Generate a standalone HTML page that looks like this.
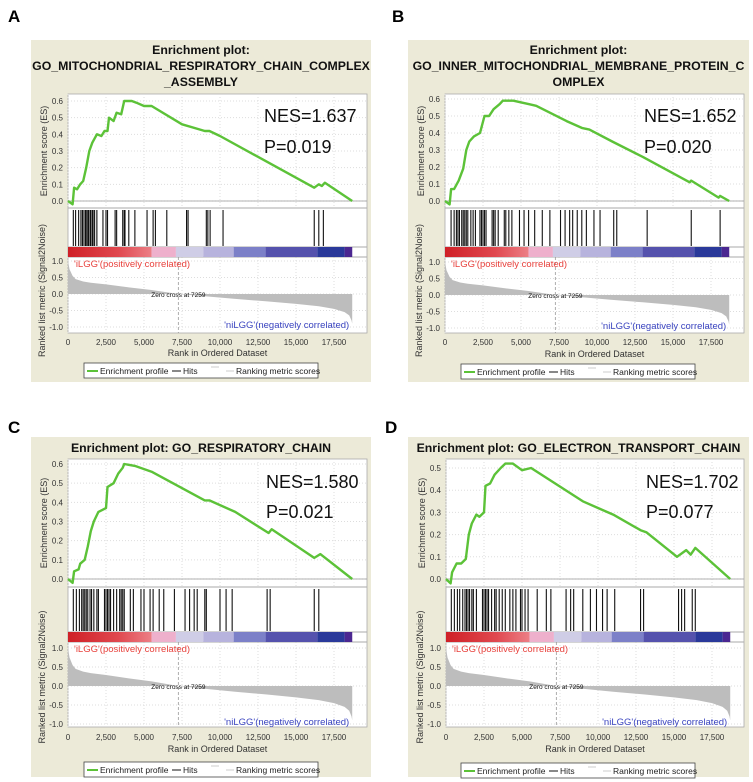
<!DOCTYPE html>
<html><head><meta charset="utf-8"><style>
html,body{margin:0;padding:0;background:#fff;}
svg{display:block;font-family:"Liberation Sans",Arial,sans-serif;}
</style></head><body>
<svg id="fig" width="753" height="782" viewBox="0 0 753 782" xmlns="http://www.w3.org/2000/svg">
<defs><linearGradient id="redg" x1="0" x2="1" y1="0" y2="0"><stop offset="0" stop-color="#cf2027"/><stop offset="0.6" stop-color="#e0484f"/><stop offset="1" stop-color="#ec7f86"/></linearGradient></defs>
</svg>
<script>
// ---- data ----
const esRankA=[0,0.3,0.4,0.6,0.8,1.0,1.2,1.4,1.6,1.9,2.2,2.4,2.6,2.7,3.0,3.2,3.5,3.7,4.2,4.5,5.0,5.5,7.5,9.0,9.3,10.0,16.2,16.5,16.7,16.9,18.7];
const esValA=[0,-0.02,0.08,0.07,0.1,0.12,0.2,0.3,0.35,0.4,0.39,0.42,0.42,0.5,0.48,0.53,0.52,0.6,0.6,0.59,0.57,0.57,0.46,0.42,0.42,0.39,0.08,0.1,0.09,0.11,0];
const hitsA=[0.35,0.5,0.7,0.85,0.95,1.05,1.15,1.2,1.3,1.35,1.45,1.5,1.6,1.65,1.75,1.9,2.3,2.5,2.6,3.1,3.2,3.6,3.7,3.75,4.0,4.4,5.2,5.6,5.75,6.5,7.8,7.9,9.1,9.2,9.35,10.2,16.2,16.5,16.8];
const esRankB=[0,0.3,0.4,0.6,0.9,1.2,1.4,1.6,1.9,2.3,2.6,2.9,3.2,3.6,3.8,4.5,5.5,6.0,8.0,9.0,9.5,11,13,16.1,16.2,18.0,18.1,18.7];
const esValB=[0,-0.02,0.07,0.07,0.12,0.19,0.3,0.35,0.38,0.4,0.5,0.5,0.54,0.57,0.59,0.59,0.57,0.56,0.47,0.43,0.42,0.35,0.26,0.11,0.12,0.02,0.03,0];
const hitsB=[0.4,0.6,0.75,0.85,0.95,1.1,1.2,1.3,1.4,1.5,1.7,1.85,2.0,2.3,2.4,2.5,2.6,2.7,3.1,3.2,3.3,3.5,3.9,4.0,4.2,4.4,4.9,5.2,5.5,5.9,6.4,6.9,7.6,7.9,8.2,8.4,8.7,9.0,9.3,9.8,10.2,11.1,11.3,13.3,16.2,18.1];
const esRankC=[0,0.3,0.4,0.7,0.8,1.1,1.3,1.5,1.7,2.0,2.5,2.6,3.0,3.3,3.6,3.7,4.4,5.5,9.0,9.3,11,13.2,13.4,16.2,16.4,16.6,18.7];
const esValC=[0,-0.02,0.04,0.05,0.08,0.1,0.17,0.25,0.3,0.35,0.37,0.48,0.5,0.55,0.58,0.6,0.59,0.56,0.41,0.41,0.35,0.24,0.26,0.11,0.12,0.13,0];
const hitsC=[0.35,0.55,0.75,0.9,1.0,1.1,1.2,1.3,1.45,1.55,1.7,1.9,2.0,2.4,2.5,2.6,2.7,2.8,3.0,3.2,3.4,3.5,3.6,3.7,4.1,4.3,4.8,5.0,5.4,5.6,6.0,6.3,7.0,7.7,8.0,8.3,8.5,9.0,9.1,10.0,10.4,10.8,13.1,13.3,16.2,16.5];
const esRankD=[0,0.3,0.4,0.7,1.0,1.3,1.5,1.7,2.0,2.2,2.5,2.6,2.9,3.2,3.6,3.9,4.4,5.0,5.6,9.0,10.0,11.0,12.8,13.2,15.2,15.6,15.8,16.1,16.4,18.7];
const esValD=[0,-0.02,0.03,0.07,0.07,0.09,0.2,0.25,0.29,0.28,0.3,0.42,0.43,0.47,0.5,0.52,0.52,0.49,0.5,0.35,0.32,0.29,0.22,0.21,0.1,0.12,0.13,0.11,0.14,0];
const hitsD=[0.35,0.55,0.75,0.9,1.1,1.25,1.35,1.45,1.55,1.7,1.8,2.0,2.4,2.5,2.6,2.7,2.8,3.0,3.2,3.3,3.5,3.7,3.9,4.2,4.4,4.6,4.9,5.0,5.2,5.4,6.0,6.6,6.9,7.9,8.2,8.4,9.0,9.5,9.9,10.3,10.6,11.1,12.8,13.0,15.3,15.5,15.7,16.2,16.4];
const metricRank=[0,0.1,0.3,0.5,1.0,1.5,2.5,4.0,5.5,7.259,9.0,11.0,13.0,15.0,16.5,17.5,18.2,18.5,18.65,18.7];
const metricVal=[1.0,0.75,0.55,0.45,0.38,0.34,0.29,0.2,0.12,0,-0.07,-0.15,-0.22,-0.3,-0.37,-0.45,-0.55,-0.65,-0.8,-0.9];
const xTicks=[0,2.5,5,7.5,10,12.5,15,17.5];
const xTickLabels=["0","2,500","5,000","7,500","10,000","12,500","15,000","17,500"];
const barStops=[0,5.5,7.1,8.9,10.9,13.0,16.4,18.2,18.7];
const barColors=["url(#redg)","#eeb0cc","#cfcde6","#b7b3dd","#7c80c8","#5552ad","#2a399a","#4b2791"];

const NS="http://www.w3.org/2000/svg";
const svg=document.getElementById('fig');
function mk(tag,attrs,parent,text){const e=document.createElementNS(NS,tag);for(const k in attrs)e.setAttribute(k,attrs[k]);if(text!==undefined)e.textContent=text;(parent||svg).appendChild(e);return e;}

const panels=[
 {letter:"A",lx:8,ly:22,bg:[31,40,340,342],title:["Enrichment plot:","GO_MITOCHONDRIAL_RESPIRATORY_CHAIN_COMPLEX","_ASSEMBLY"],ty:[54,70,86],x0:68,x1:367,top:94,esBot:208,es0:201,esTop:101,esMax:0.6,esTicks:[0,0.1,0.2,0.3,0.4,0.5,0.6],hitsBot:247,barBot:257,rankBot:333,r1:261,r0:294,rm1:327,xl:345,xt:356,lg:363,nes:"NES=1.637",p:"P=0.019",nesY:122,pY:153,nesX:264,er:esRankA,ev:esValA,hits:hitsA},
 {letter:"B",lx:392,ly:22,bg:[408,40,341,342],title:["Enrichment plot:","GO_INNER_MITOCHONDRIAL_MEMBRANE_PROTEIN_C","OMPLEX"],ty:[54,70,86],x0:445,x1:744,top:94,esBot:208,es0:201,esTop:99,esMax:0.6,esTicks:[0,0.1,0.2,0.3,0.4,0.5,0.6],hitsBot:247,barBot:257,rankBot:333,r1:262,r0:295,rm1:328,xl:345,xt:357,lg:364,nes:"NES=1.652",p:"P=0.020",nesY:122,pY:153,nesX:644,er:esRankB,ev:esValB,hits:hitsB},
 {letter:"C",lx:8,ly:433,bg:[31,437,340,340],title:["Enrichment plot: GO_RESPIRATORY_CHAIN"],ty:[452],x0:68,x1:367,top:459,esBot:587,es0:579,esTop:464,esMax:0.6,esTicks:[0,0.1,0.2,0.3,0.4,0.5,0.6],hitsBot:632,barBot:642,rankBot:727,r1:648,r0:686,rm1:724,xl:740,xt:752,lg:762,nes:"NES=1.580",p:"P=0.021",nesY:488,pY:518,nesX:266,er:esRankC,ev:esValC,hits:hitsC},
 {letter:"D",lx:385,ly:433,bg:[408,437,341,340],title:["Enrichment plot: GO_ELECTRON_TRANSPORT_CHAIN"],ty:[452],x0:446,x1:744,top:459,esBot:587,es0:579,esTop:468,esMax:0.5,esTicks:[0,0.1,0.2,0.3,0.4,0.5],hitsBot:632,barBot:642,rankBot:727,r1:648,r0:686,rm1:724,xl:740,xt:752,lg:763,nes:"NES=1.702",p:"P=0.077",nesY:488,pY:518,nesX:646,er:esRankD,ev:esValD,hits:hitsD}
];

panels.forEach((P,pi)=>{
  const g=mk('g',{},svg);
  
  
  const L=mk('text',{x:P.lx,y:P.ly,'font-size':17,'font-weight':'bold',fill:'#000'},g,P.letter);
  
  const bg=mk('rect',{x:P.bg[0],y:P.bg[1],width:P.bg[2],height:P.bg[3],fill:'#ecead8'},g);
  
  const cx=P.bg[0]+P.bg[2]/2;
  P.title.forEach((t,i)=>{const e=mk('text',{x:cx,y:P.ty[i],'font-size':12.3,'font-weight':'bold','text-anchor':'middle',fill:'#111'},g,t);
    });
  const sx=v=>P.x0+v*1000*0.0152;
  const sy=v=>P.es0-(v/P.esMax)*(P.es0-P.esTop);
  const ry=v=>P.r0-v*(P.r0-P.r1);
  mk('rect',{x:P.x0,y:P.top,width:P.x1-P.x0,height:P.rankBot-P.top,fill:'#fff',stroke:'#aaa','stroke-width':0.8},g);
  xTicks.forEach(t=>{mk('line',{x1:sx(t),x2:sx(t),y1:P.top,y2:P.esBot,stroke:'#ddd','stroke-dasharray':'1,2'},g);
    mk('line',{x1:sx(t),x2:sx(t),y1:P.barBot,y2:P.rankBot,stroke:'#ddd','stroke-dasharray':'1,2'},g);});
  P.esTicks.forEach(t=>{mk('line',{x1:P.x0,x2:P.x1,y1:sy(t),y2:sy(t),stroke:'#ddd','stroke-dasharray':'1,2'},g);
    const e=mk('text',{x:P.x0-5,y:sy(t)+3,'font-size':8,'text-anchor':'end',fill:'#333'},g,t.toFixed(1));
    });
  [1,0.5,0,-0.5,-1].forEach(t=>{mk('line',{x1:P.x0,x2:P.x1,y1:ry(t),y2:ry(t),stroke:'#ddd','stroke-dasharray':'1,2'},g);
    const e=mk('text',{x:P.x0-5,y:ry(t)+3,'font-size':8,'text-anchor':'end',fill:'#333'},g,t.toFixed(1));
    });
  mk('line',{x1:P.x0,x2:P.x1,y1:P.esBot,y2:P.esBot,stroke:'#aaa'},g);
  mk('line',{x1:P.x0,x2:P.x1,y1:P.es0,y2:P.es0,stroke:'#999','stroke-width':0.8},g);
  mk('line',{x1:P.x0,x2:P.x1,y1:P.hitsBot,y2:P.hitsBot,stroke:'#aaa'},g);
  mk('line',{x1:P.x0,x2:P.x1,y1:P.barBot,y2:P.barBot,stroke:'#aaa'},g);
  let d=P.er.map((r,i)=>(i?'L':'M')+sx(r).toFixed(1)+','+sy(P.ev[i]).toFixed(1)).join(' ');
  const es=mk('path',{d:d,fill:'none',stroke:'#5cc238','stroke-width':2.4,'stroke-linejoin':'round'},g);
  
  P.hits.forEach(h=>{const e=mk('line',{x1:sx(h),x2:sx(h),y1:P.esBot+2,y2:P.hitsBot-1,stroke:'#111','stroke-width':1.1},g);
    });
  for(let i=0;i<barColors.length;i++){
    const e=mk('rect',{x:sx(barStops[i]),y:P.hitsBot,width:sx(barStops[i+1])-sx(barStops[i]),height:P.barBot-P.hitsBot,fill:barColors[i]},g);
    
  }
  let m='M'+sx(0)+','+ry(0)+' '+metricRank.map((r,i)=>'L'+sx(r).toFixed(1)+','+ry(metricVal[i]).toFixed(1)).join(' ')+' L'+sx(18.7)+','+ry(0)+' Z';
  const ma=mk('path',{d:m,fill:'#bdbdbd',stroke:'none'},g);
  
  mk('line',{x1:sx(7.259),x2:sx(7.259),y1:P.barBot,y2:P.rankBot,stroke:'#999','stroke-dasharray':'3,2','stroke-width':0.8},g);
  let e=mk('text',{x:sx(7.259),y:P.r0+3,'font-size':6.5,'text-anchor':'middle',fill:'#111'},g,'Zero cross at 7259');
  
  e=mk('text',{x:P.x0+6,y:P.barBot+10,'font-size':9.5,fill:'#e8413c'},g,"'iLGG'(positively correlated)");
  
  e=mk('text',{x:sx(18.5),y:P.rm1+1,'font-size':9.5,'text-anchor':'end',fill:'#3a44c0'},g,"'niLGG'(negatively correlated)");
  
  xTicks.forEach((t,i)=>{const e=mk('text',{x:sx(t),y:P.xl,'font-size':8,'text-anchor':'middle',fill:'#333'},g,xTickLabels[i]);
    });
  e=mk('text',{x:(P.x0+P.x1)/2,y:P.xt,'font-size':9,'text-anchor':'middle',fill:'#333'},g,'Rank in Ordered Dataset');
  
  const ax=P.x0-21, ey=(P.top+P.esBot)/2, ryc=(P.esBot+P.rankBot+40)/2;
  e=mk('text',{x:ax,y:ey,'font-size':9,'text-anchor':'middle',fill:'#333',transform:`rotate(-90 ${ax} ${ey})`},g,'Enrichment score (ES)');
  
  e=mk('text',{x:ax-2,y:ryc,'font-size':9,'text-anchor':'middle',fill:'#333',transform:`rotate(-90 ${ax-2} ${ryc})`},g,'Ranked list metric (Signal2Noise)');
  
  e=mk('text',{x:P.nesX,y:P.nesY,'font-size':18,fill:'#111'},g,P.nes);
  
  e=mk('text',{x:P.nesX,y:P.pY,'font-size':18,fill:'#111'},g,P.p);
  
  const lx=P.bg[0]+53, lw=234, ly=P.lg;
  const lg=mk('g',{},g);
  
  mk('rect',{x:lx,y:ly,width:lw,height:15,fill:'#fff',stroke:'#444','stroke-width':0.8},lg);
  mk('line',{x1:lx+3,x2:lx+14,y1:ly+8,y2:ly+8,stroke:'#5cc238','stroke-width':2},lg);
  mk('text',{x:lx+16,y:ly+11,'font-size':8.5,fill:'#222'},lg,'Enrichment profile');
  mk('line',{x1:lx+88,x2:lx+97,y1:ly+8,y2:ly+8,stroke:'#111','stroke-width':1},lg);
  mk('text',{x:lx+99,y:ly+11,'font-size':8.5,fill:'#222'},lg,'Hits');
  mk('line',{x1:lx+127,x2:lx+135,y1:ly+4,y2:ly+4,stroke:'#ccc','stroke-width':1},lg);
  mk('line',{x1:lx+142,x2:lx+150,y1:ly+8,y2:ly+8,stroke:'#ccc','stroke-width':1},lg);
  mk('text',{x:lx+152,y:ly+11,'font-size':8.5,fill:'#222'},lg,'Ranking metric scores');
});
</script>
</body></html>
